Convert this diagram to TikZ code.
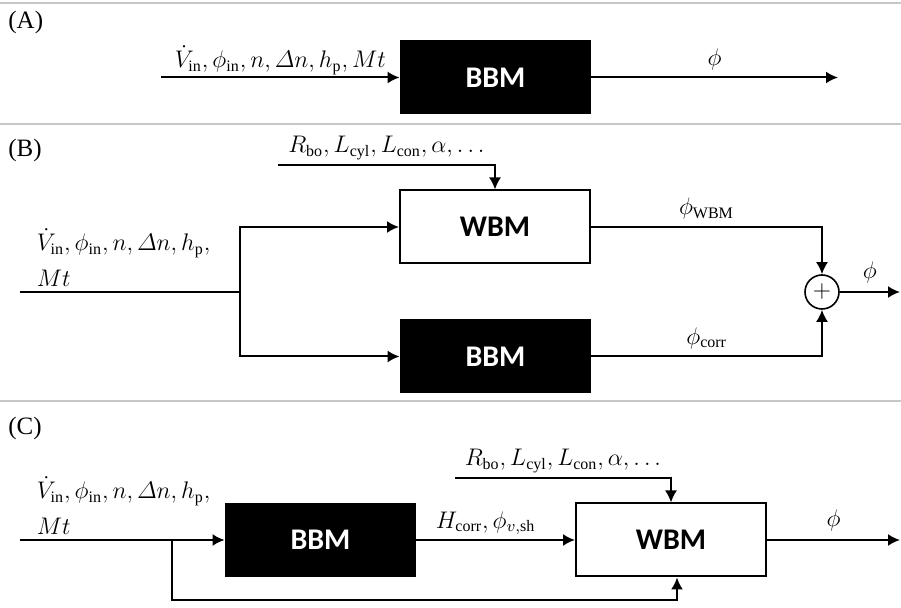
\documentclass[tikz,border=0pt]{standalone}
\usepackage{amsmath,amssymb}
\usepackage{fontspec}
\setmainfont{Liberation Serif}
\newfontfamily\boxfont{Carlito}
\usepackage{tikz}
\usetikzlibrary{shapes.geometric, arrows, arrows.meta, positioning, calc}
\tikzstyle{blackbox} = [rectangle,
minimum width=95.5pt,
minimum height=37pt,
fill=black, text=white,
font=\boxfont\bfseries\fontsize{15}{18}\selectfont]
\tikzstyle{whitebox} = [rectangle,
minimum width=95pt,
minimum height=36.5pt,
draw=black, line width=1pt, fill=white,
font=\boxfont\bfseries\fontsize{15}{18}\selectfont]
\tikzstyle{sum} = [circle, draw=black, line width=0.8pt, minimum size=17pt, inner sep=0pt]
\tikzstyle{panel} = [anchor=west, inner sep=0pt, font=\fontsize{12.5}{14}\selectfont]
\tikzstyle{arrow} = [line width=1pt, -{Latex[length=6pt,width=6pt]}]
\tikzstyle{line} = [line width=1pt]
\tikzstyle{sep} = [draw=black!22, line width=1pt]

\begin{document}
\begin{tikzpicture}[x=0.5pt, y=-0.5pt, font=\fontsize{12}{18}\selectfont]
                \useasboundingbox (0,0) rectangle (901,608);
                % separators
                \draw [sep] (0,3) -- (901,3);
                \draw [sep] (0,124) -- (901,124);
                \draw [sep] (0,401) -- (901,401);

                % (A)
                \node (la) [panel] at (8,22) {(A)};
                \node (bbmA) [blackbox] at (495.5,77.5) {BBM};
                \coordinate (inA) at (161,77.5);
                \coordinate (outA) at (838,77.5);
                \draw [arrow] (inA) -- node[anchor=south, inner sep=1pt] {$\dot{V}_{\mathrm{in}}, \phi_{\mathrm{in}}, n, \varDelta n, h_{\mathrm{p}}, Mt$} (bbmA);
                \draw [arrow] (bbmA) -- node[anchor=south] {$\phi$} (outA);

                % (B)
                \node (lb) [panel] at (8,150) {(B)};
                \node (wbmB) [whitebox] at (495,227) {WBM};
                \node (bbmB) [blackbox] at (495.5,356.5) {BBM};
                \node (sumB) [sum] at (822,292) {$+$};
                \coordinate (inB) at (20,292);
                \coordinate (splitB) at (240,292);
                \coordinate (parB) at (278,165);
                \coordinate (outB) at (900,292);
                \draw [line] (inB) -- node[pos=0, anchor=south west, align=left, inner sep=2pt, xshift=6pt] {$\dot{V}_{\mathrm{in}}, \phi_{\mathrm{in}}, n, \varDelta n, h_{\mathrm{p}},$\\$Mt$} (splitB);
                \draw [arrow] (splitB) |- (wbmB);
                \draw [arrow] (splitB) |- (bbmB);
                \draw [arrow] (parB) -| node[pos=0.25, anchor=south, inner sep=2pt] {$R_{\mathrm{bo}}, L_{\mathrm{cyl}}, L_{\mathrm{con}}, \alpha, \ldots$} (wbmB);
                \draw [arrow] (wbmB) -| node[pos=0.25, anchor=south] {$\phi_{\mathrm{WBM}}$} (sumB);
                \draw [arrow] (bbmB) -| node[pos=0.25, anchor=south] {$\phi_{\mathrm{corr}}$} (sumB);
                \draw [arrow] (sumB) -- node[anchor=south, inner sep=4pt] {$\phi$} (outB);

                % (C)
                \node (lc) [panel] at (8,428) {(C)};
                \node (bbmC) [blackbox] at (320.5,540) {BBM};
                \node (wbmC) [whitebox] at (671,540) {WBM};
                \coordinate (inC) at (20,540);
                \coordinate (splitC) at (172,540);
                \coordinate (loopC) at (172,600);
                \coordinate (parC) at (455,478);
                \coordinate (outC) at (900,540);
                \draw [arrow] (inC) -- node[pos=0, anchor=south west, align=left, inner sep=2pt, xshift=6pt] {$\dot{V}_{\mathrm{in}}, \phi_{\mathrm{in}}, n, \varDelta n, h_{\mathrm{p}},$\\$Mt$} (bbmC);
                \draw [arrow] (splitC) -- (loopC) -| ([xshift=3pt]wbmC.south);
                \draw [arrow] (bbmC) -- node[anchor=south, inner sep=2pt, xshift=-5pt] {$H_{\mathrm{corr}}, \phi_{v,\mathrm{sh}}$} (wbmC);
                \draw [arrow] (parC) -| node[pos=0.25, anchor=south, inner sep=2pt] {$R_{\mathrm{bo}}, L_{\mathrm{cyl}}, L_{\mathrm{con}}, \alpha, \ldots$} (wbmC);
                \draw [arrow] (wbmC) -- node[anchor=south, inner sep=4pt] {$\phi$} (outC);
            \end{tikzpicture}
\end{document}
